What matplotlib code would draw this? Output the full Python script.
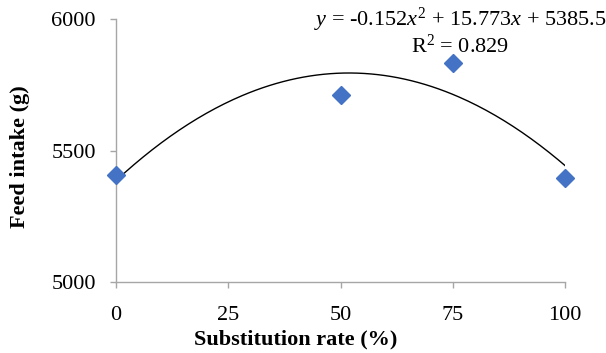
#Feed intake vs substitution rate with quadratic trendline

import numpy as np
import matplotlib
matplotlib.use("Agg")
import matplotlib.pyplot as plt

plt.rcParams['font.family'] = ['Liberation Serif', 'DejaVu Serif']
plt.rcParams['mathtext.fontset'] = 'custom'
plt.rcParams['mathtext.rm'] = 'Liberation Serif'
plt.rcParams['mathtext.it'] = 'Liberation Serif:italic'

#Data
subRate = [0, 50, 75, 100]
feedIntake = [5405, 5711, 5833, 5395]
trendCoef = [-0.152, 15.773, 5385.5]   #printed trendline, highest power first
rSq = 0.829

xTicks = [0, 25, 50, 75, 100]
yTicks = [5000, 5500, 6000]

axCol = "#A6A6A6"
ptCol = "#4472C4"
fSz = 16

fig = plt.figure(figsize=(6.06, 3.53), dpi=100)
ax = fig.add_axes([116/606, 1-282/353, (565-116)/606, (282-19)/353])

xT = np.linspace(min(subRate), max(subRate), 200)
ax.plot(xT, np.polyval(trendCoef, xT), color='black', lw=1.0, zorder=2)
ax.plot(subRate, feedIntake, linestyle='none', marker='D', ms=9.5,
        color=ptCol, mec=ptCol, zorder=3, clip_on=False)

ax.set_xlim(0, 100)
ax.set_ylim(5000, 6000)
ax.set_xticks(xTicks)
ax.set_yticks(yTicks)

for s in ['top', 'right']:
	ax.spines[s].set_visible(False)
for s in ['left', 'bottom']:
	ax.spines[s].set_color(axCol)
	ax.spines[s].set_linewidth(1.0)

ax.tick_params(axis='x', direction='out', length=4.5, width=1.0, color=axCol,
               pad=13, labelsize=fSz)
ax.tick_params(axis='y', direction='out', length=4.5, width=1.0, color=axCol,
               pad=10, labelsize=fSz)

ax.set_xlabel("Substitution rate (%)", fontsize=fSz, fontweight='bold')
ax.xaxis.set_label_coords((296-116)/449, -(329-282)/263)
ax.set_ylabel("Feed intake (g)", fontsize=fSz, fontweight='bold')
ax.yaxis.set_label_coords(-(116-30)/449, (282-157)/263)

eqStr = r"$y$ = %.3f$x^{\mathrm{2}}$ + %.3f$x$ + %.1f" % tuple(trendCoef)
fig.text(460/606, 1-20/353, eqStr, fontsize=fSz, ha='center', va='center')
fig.text(460/606, 1-46/353, r"R$^{\mathrm{2}}$ = %.3f" % rSq, fontsize=fSz,
         ha='center', va='center')

fig.savefig("out.png", dpi=100)
plt.close('all')
